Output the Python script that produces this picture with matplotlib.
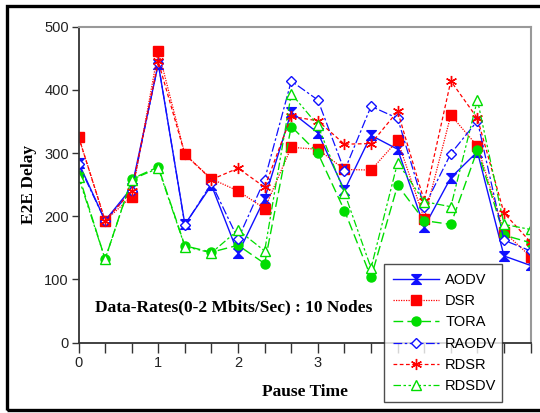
import matplotlib
matplotlib.use('Agg')
import matplotlib.pyplot as plt
from matplotlib.patches import Rectangle
import numpy as np

# E2E delay per pause time step (18 points, every 1/3 unit)
# labels 4 and 5 sit behind the legend in the original, so they are left blank
x_ticks_labels = ['0', '1', '2', '3', '', '']
aodv = [285, 193, 245, 441, 187, 249, 141, 228, 365, 332, 241, 328, 306, 183, 261, 302, 137, 122]
dsr = [326, 193, 231, 462, 298, 259, 240, 212, 309, 306, 274, 273, 320, 196, 360, 311, 175, 136]
tora = [266, 132, 259, 278, 153, 143, 154, 125, 342, 300, 209, 103, 249, 193, 187, 305, 170, 158]
raodv = [282, 193, 240, 442, 186, 252, 164, 258, 414, 384, 272, 374, 355, 215, 299, 351, 162, 145]
rdsr = [326, 193, 240, 445, 298, 258, 276, 246, 358, 351, 314, 315, 366, 224, 414, 355, 205, 159]
rdsdv = [262, 132, 258, 276, 152, 142, 178, 145, 394, 344, 237, 118, 285, 223, 215, 384, 187, 179]

sans = 'Liberation Sans'
serif = 'Liberation Serif'

x = np.arange(len(aodv)) / 3.0

blue = '#1010ff'
red = '#ff0000'
green = '#00dd00'

hourglass = [(-1, 1), (1, 1), (0, 0), (1, -1), (-1, -1), (0, 0), (-1, 1)]

fig = plt.figure(figsize=(5.4, 4.13), dpi=100)
ax = fig.add_axes([0.1454, 0.1707, 0.8372, 0.7646])

ax.plot(x, aodv, color=blue, lw=1.0, ls='-', marker=hourglass, ms=7, mfc=blue, mec=blue, label='AODV')
ax.plot(x, dsr, color=red, lw=0.9, ls=(0, (1, 1)), marker='s', ms=6.5, mfc=red, mec=red, label='DSR')
ax.plot(x, tora, color=green, lw=1.0, ls=(0, (7, 3)), marker='o', ms=6.5, mfc=green, mec=green, label='TORA')
ax.plot(x, raodv, color=blue, lw=0.9, ls=(0, (7, 2, 2, 2)), marker='D', ms=5.5, mfc='white', mec=blue, mew=1.0, label='RAODV')
ax.plot(x, rdsr, color=red, lw=0.9, ls=(0, (3, 2)), marker=(6, 2, 0), ms=8, mec=red, mew=1.0, label='RDSR')
ax.plot(x, rdsdv, color=green, lw=0.9, ls=(0, (6, 2, 2, 2, 2, 2)), marker='^', ms=7, mfc='white', mec=green, mew=1.0, label='RDSDV')

ax.set_xlim(0, 17 / 3)
ax.set_ylim(0, 500)
ax.set_xticks(np.arange(18) / 3.0)
ax.set_xticklabels([x_ticks_labels[i // 3] if i % 3 == 0 else '' for i in range(18)])
ax.set_yticks([0, 100, 200, 300, 400, 500])
ax.tick_params(axis='both', direction='out', length=6, width=1.0, colors='#333333',
               labelsize=10.5, labelcolor='#222222')
ax.tick_params(axis='x', length=7, pad=3)
ax.tick_params(axis='y', length=5, pad=2)
for lab in ax.get_xticklabels() + ax.get_yticklabels():
    lab.set_fontfamily(sans)

ax.spines['left'].set_color('#333333')
ax.spines['bottom'].set_color('#333333')
ax.spines['left'].set_linewidth(1.3)
ax.spines['bottom'].set_linewidth(1.3)
ax.spines['right'].set_color('#999999')
ax.spines['top'].set_color('#999999')
ax.spines['right'].set_linewidth(1.5)
ax.spines['top'].set_linewidth(1.5)

ax.set_xlabel('Pause Time', fontfamily=serif, fontweight='bold', fontsize=12.5, labelpad=10)
ax.set_ylabel('E2E Delay', fontfamily=serif, fontweight='bold', fontsize=12.5, labelpad=5)

ax.text(0.21, 55, 'Data-Rates(0-2 Mbits/Sec) : 10 Nodes', fontfamily=serif, fontweight='bold',
        fontsize=12.5, va='center', ha='left')

leg = fig.legend(loc='lower left', bbox_to_anchor=(384 / 540, 11 / 413, 118 / 540, 140 / 413),
                 mode='expand', frameon=True, fancybox=False, edgecolor='#222222',
                 prop={'family': sans, 'size': 10.5}, handlelength=3.2, labelspacing=0.5,
                 borderpad=0.6, handletextpad=0.4, borderaxespad=0)
leg.get_frame().set_linewidth(1.0)

fig.patches.append(Rectangle((7 / 540, 3 / 413), 1.0, 404 / 413, transform=fig.transFigure,
                             fill=False, edgecolor='black', linewidth=2.4, clip_on=False))

fig.savefig('out.png', dpi=100)
